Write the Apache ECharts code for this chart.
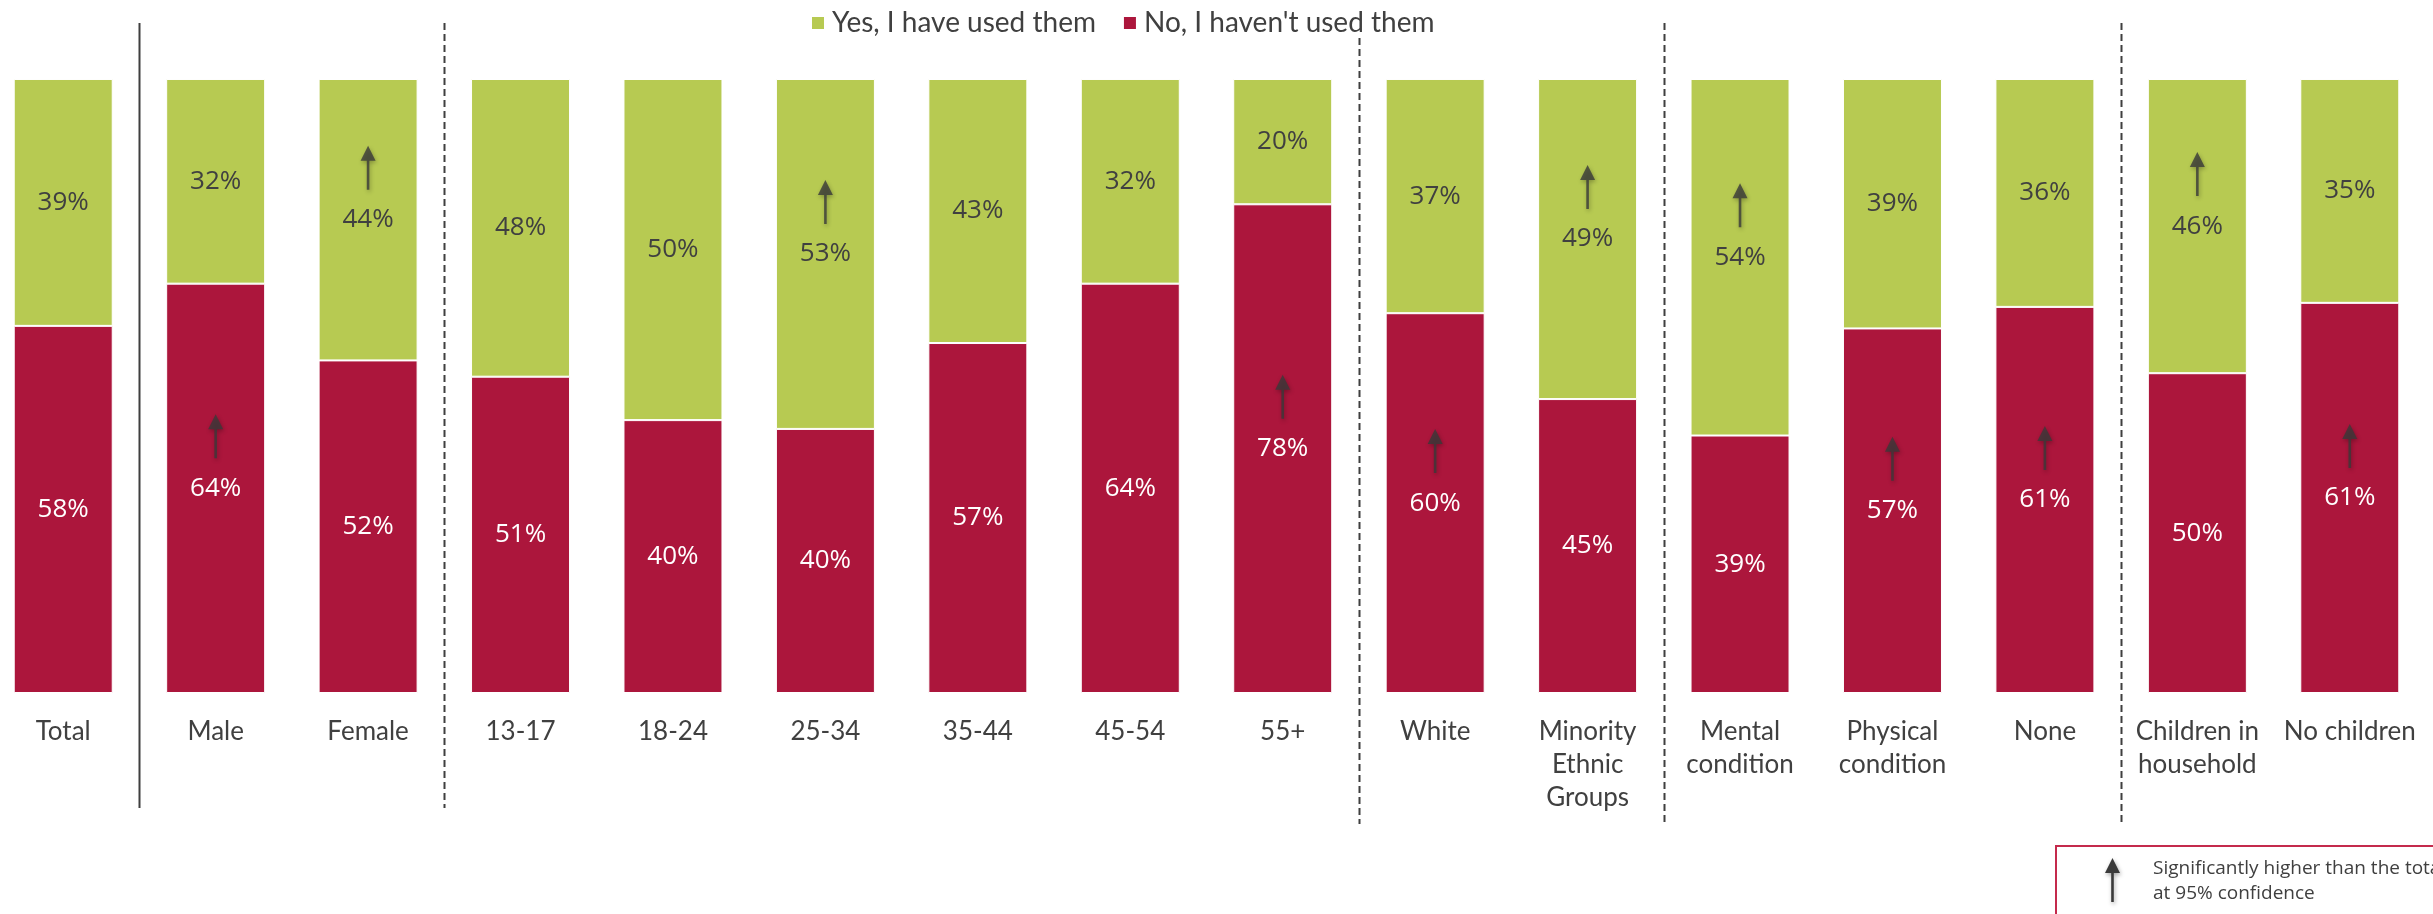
<!DOCTYPE html>
<html>
<head>
<meta charset="utf-8">
<script src="https://cdn.jsdelivr.net/npm/echarts@6/dist/echarts.min.js"></script>
<style>
  html, body { margin: 0; padding: 0; background: #fff; overflow: hidden; }
  #eChart { position: absolute; left: -13px; top: 0; width: 2446px; height: 914px; }
</style>
</head>
<body>
<div id="eChart"></div>
<script>
const categories = [
  "Total", "Male", "Female", "13-17", "18-24", "25-34", "35-44", "45-54", "55+",
  "White", "Minority\nEthnic\nGroups", "Mental\ncondition", "Physical\ncondition",
  "None", "Children in\nhousehold", "No children"
];
const yesUsed = [39, 32, 44, 48, 50, 53, 43, 32, 20, 37, 49, 54, 39, 36, 46, 35];
const notUsed = [58, 64, 52, 51, 40, 40, 57, 64, 78, 60, 45, 39, 57, 61, 50, 61];
// significantly higher than total (category indexes)
const sigYes = [2, 5, 10, 11, 14];
const sigNo = [1, 8, 9, 12, 13, 15];
// group separators sit after these category indexes
const separators = [0, 2, 8, 10, 13];

const GREEN = "#b7ca52";
const RED = "#ac163c";
const TEXT = "#404040";
const ARROW = "path://M7.5,0 L15,15 L8.8,15 L8.8,44 L6.2,44 L6.2,15 L0,15 Z";
const SHIFT = 13; // container starts 13px left of the page

// bars are scaled to 100% of the two answers
const share = (i, v) => (v / (yesUsed[i] + notUsed[i])) * 100;
const noShare = notUsed.map((v, i) => share(i, v));
const yesShare = yesUsed.map((v, i) => share(i, v));

const arrowData = [
  ...sigNo.map((i) => [i, noShare[i] / 2]),
  ...sigYes.map((i) => [i, noShare[i] + yesShare[i] / 2]),
];

const options = {
  animation: false,
  color: [RED, GREEN],
  legend: {
    left: 805 + SHIFT,
    top: 4,
    itemWidth: 14,
    itemHeight: 14,
    itemGap: 26,
    icon: "rect",
    textStyle: { fontFamily: "Lato", fontSize: 28, color: TEXT, padding: [0, 0, 0, 2] },
    data: ["Yes, I have used them", "No, I haven't used them"],
  },
  grid: { left: 0, right: 7, top: 79, bottom: 221 },
  xAxis: {
    type: "category",
    data: categories,
    axisLine: { show: false },
    axisTick: { show: false },
    axisLabel: {
      interval: 0,
      margin: 22,
      fontFamily: "Lato",
      fontSize: 26,
      lineHeight: 33,
      color: TEXT,
    },
  },
  yAxis: { type: "value", min: 0, max: 100, show: false },
  series: [
    {
      name: "No, I haven't used them",
      type: "bar",
      stack: "all",
      barWidth: 99,
      itemStyle: { color: RED, borderColor: "#fff", borderWidth: 1 },
      label: {
        show: true,
        position: "inside",
        color: "#fff",
        fontFamily: "Open Sans",
        fontSize: 26,
        formatter: (p) => notUsed[p.dataIndex] + "%",
      },
      data: noShare,
    },
    {
      name: "Yes, I have used them",
      type: "bar",
      stack: "all",
      barWidth: 99,
      itemStyle: { color: GREEN, borderColor: "#fff", borderWidth: 1 },
      label: {
        show: true,
        position: "inside",
        color: TEXT,
        fontFamily: "Open Sans",
        fontSize: 26,
        formatter: (p) => yesUsed[p.dataIndex] + "%",
      },
      data: yesShare,
    },
    {
      name: "sig",
      type: "scatter",
      symbol: ARROW,
      symbolSize: [15, 44],
      symbolOffset: [0, -52],
      z: 5,
      silent: true,
      itemStyle: {
        color: "#3a3a3a",
        shadowBlur: 4,
        shadowColor: "rgba(0,0,0,0.35)",
        shadowOffsetX: 1,
        shadowOffsetY: 2,
      },
      data: arrowData,
    },
  ],
};

const myChart = echarts.init(document.getElementById("eChart"), null, { renderer: "canvas" });
myChart.setOption(options);

// separator lines between groups + significance key box
const lineTops = [23, 23, 38, 23, 23];
const lineBottoms = [808, 808, 824, 824, 824];
const graphics = separators.map((idx, k) => {
  const x = Math.round(
    (myChart.convertToPixel({ xAxisIndex: 0 }, idx) +
      myChart.convertToPixel({ xAxisIndex: 0 }, idx + 1)) / 2
  ) + 0.5;
  return {
    type: "line",
    shape: { x1: x, y1: lineTops[k], x2: x, y2: lineBottoms[k] },
    style: { stroke: "#3f3f3f", lineWidth: 2, lineDash: k === 0 ? null : [7, 4] },
  };
});
graphics.push(
  {
    type: "rect",
    shape: { x: 2056 + SHIFT, y: 846, width: 500, height: 200 },
    style: { fill: "#fff", stroke: "#c42a4c", lineWidth: 2 },
  },
  {
    type: "polygon",
    shape: {
      points: [[7.5, 0], [15, 15], [8.8, 15], [8.8, 44], [6.2, 44], [6.2, 15], [0, 15]],
    },
    x: 2105 + SHIFT,
    y: 858,
    style: {
      fill: "#3a3a3a",
      shadowBlur: 4,
      shadowColor: "rgba(0,0,0,0.35)",
      shadowOffsetX: 1,
      shadowOffsetY: 2,
    },
  },
  {
    type: "text",
    x: 2153 + SHIFT,
    y: 856,
    style: {
      text: "Significantly higher than the total\nat 95% confidence",
      fontFamily: "Open Sans",
      fontSize: 19,
      lineHeight: 25,
      fill: TEXT,
    },
  }
);
myChart.setOption({ graphic: graphics });
</script>
</body>
</html>
